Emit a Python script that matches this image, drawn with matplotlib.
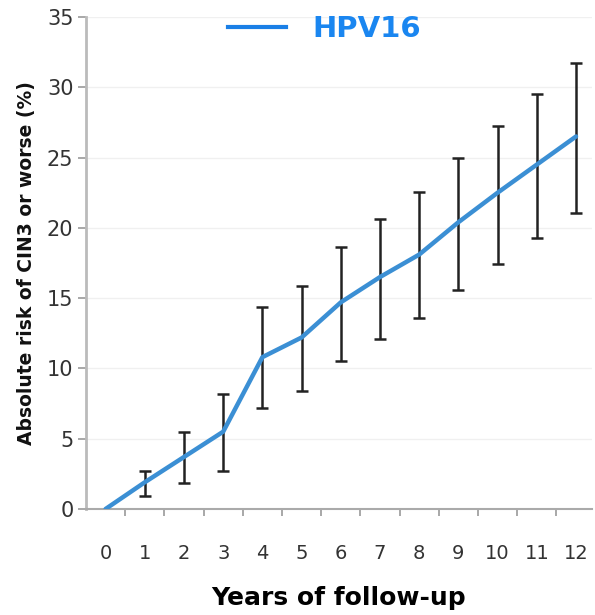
import numpy as np
import matplotlib.pyplot as plt
from matplotlib.lines import Line2D

years = np.arange(0, 13)
risk = [0, 1.9, 3.7, 5.5, 10.8, 12.2, 14.7, 16.5, 18.1, 20.4, 22.5, 24.5, 26.5]
upper = [0, 2.7, 5.45, 8.2, 14.4, 15.85, 18.65, 20.65, 22.55, 25.0, 27.25, 29.55, 31.75]
lower = [0, 0.95, 1.87, 2.7, 7.16, 8.4, 10.5, 12.1, 13.55, 15.6, 17.45, 19.3, 21.05]

risk = np.array(risk)
yerr = np.array([risk - np.array(lower), np.array(upper) - risk])

fig = plt.figure(figsize=(5.95, 6.15), dpi=100)
ax = fig.add_axes([0.1445, 0.1724, 0.85, 0.800])

ax.errorbar(years[1:], risk[1:], yerr=yerr[:, 1:], fmt="none", ecolor="#222222",
            elinewidth=1.8, capsize=4, capthick=1.8, zorder=2)
ax.plot(years, risk, color="#3b8fd4", linewidth=3.2, zorder=3, solid_capstyle="round")

ax.set_xlim(-0.5, 12.4)
ax.set_ylim(0, 35)
ax.set_yticks(np.arange(0, 36, 5))
ax.set_xticks(years)
ax.set_xticks(np.arange(0.5, 12.5, 1), minor=True)
ax.tick_params(axis="x", which="major", length=0, labelsize=14, colors="#333333", pad=25)
ax.tick_params(axis="x", which="minor", length=5, color="#999999", width=1.2)
ax.tick_params(axis="y", length=6, color="#999999", width=1.2, labelsize=15,
               colors="#333333", pad=3)
ax.grid(axis="y", color="#f0f0f0", linewidth=1)
ax.set_axisbelow(True)

for s in ["top", "right"]:
    ax.spines[s].set_visible(False)
ax.spines["left"].set_color("#bbbbbb")
ax.spines["left"].set_linewidth(2)
ax.spines["bottom"].set_color("#aaaaaa")
ax.spines["bottom"].set_linewidth(1.5)

ax.set_ylabel("Absolute risk of CIN3 or worse (%)", fontsize=13.5, fontweight="bold",
              labelpad=8, color="#111111")
ax.set_xlabel("Years of follow-up", fontsize=18, fontweight="bold", labelpad=17)

handle = Line2D([], [], color="#1a7fe6", linewidth=3)
leg = fig.legend([handle], ["HPV16"], loc="center", bbox_to_anchor=(0.545, 0.953),
                 frameon=False, fontsize=21, handlelength=2.0, handletextpad=0.9)
for t in leg.get_texts():
    t.set_color("#1a86f0")
    t.set_fontweight("bold")

fig.savefig("out.png", dpi=100)
